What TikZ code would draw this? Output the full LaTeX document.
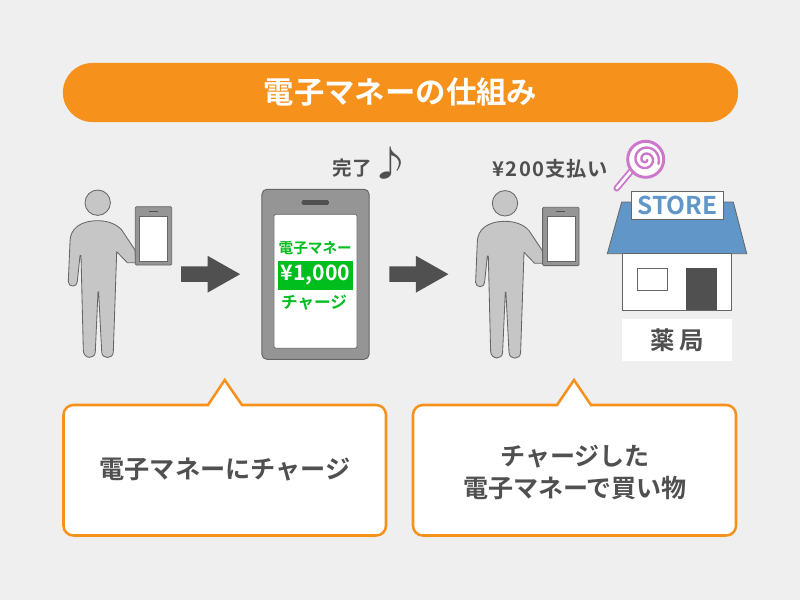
\documentclass[tikz,border=0pt]{standalone}
\usepackage{fontspec}
\setmainfont{Noto Sans CJK JP}[BoldFont={Noto Sans CJK JP Bold}]
\usepackage{tikz}
\usetikzlibrary{calc,positioning,shapes.arrows}

\definecolor{bggray}{HTML}{EFEFEF}
\definecolor{orangemain}{HTML}{F6911C}
\definecolor{textgray}{HTML}{505050}
\definecolor{linegray}{HTML}{666666}
\definecolor{bodygray}{HTML}{C6C6C6}
\definecolor{casegray}{HTML}{959595}
\definecolor{moneygreen}{HTML}{00BE1E}
\definecolor{storeblue}{HTML}{6097C8}
\definecolor{candypink}{HTML}{CC77CC}

\newcommand{\fsize}[1]{\fontsize{#1}{#1}\selectfont\bfseries}

\tikzset{
	person/.pic={
		\draw [fill=bodygray, draw=linegray, line width=0.6pt] (97.7,202.7) circle (12.7);
		\draw [fill=bodygray, draw=linegray, line width=0.6pt, line join=round]
			(97.7,220.7) .. controls (80,220.7) and (70,229) .. (70,241.7)
			-- (68.3,281.7) .. controls (68.3,287.5) and (77.3,287.5) .. (77.3,281.7)
			-- (80,255.5) -- (81,255.5) -- (83.3,350)
			.. controls (83.3,359.5) and (95.3,359.5) .. (95.3,351.7)
			-- (98,291.7) -- (98.6,291.7) -- (101.7,351.7)
			.. controls (101.7,359.5) and (113.3,359.5) .. (113.3,351.7)
			-- (116.7,251.7) -- (127.3,262.7) -- (136,262.7) -- (135,250)
			-- (121.7,230) .. controls (116,223.5) and (107,220.7) .. (97.7,220.7) -- cycle;
		\draw [fill=casegray, draw=linegray, line width=0.6pt, rounded corners=0.8pt] (135.3,206.7) rectangle (171.7,265);
		\draw [fill=white, draw=linegray, line width=0.4pt] (139.5,216) rectangle (167.5,261);
		\draw [draw=textgray, line width=0.7pt] (149,211) -- (158,211);
	},
}

\begin{document}
\begin{tikzpicture}[x=0.025cm,y=-0.025cm]
	\tikzstyle{blockarrow} = [shape=single arrow, fill=textgray, anchor=tip, inner xsep=0pt, inner ysep=0.1875cm, minimum height=1.475cm, minimum width=0.9075cm, single arrow head extend=0.266cm, single arrow tip angle=59]
	\tikzstyle{callout} = [draw=orangemain, fill=white, line width=1.8pt, line join=miter]
	\tikzstyle{darktext} = [text=textgray, inner sep=0pt, align=center]
	\tikzstyle{greentext} = [text=moneygreen, inner sep=0pt]

	\fill [bggray] (0,0) rectangle (800,600);

	% title
	\node [fill=orangemain, rounded corners=0.735cm, minimum width=16.875cm, minimum height=1.475cm, text=white, inner sep=0pt, font=\fsize{21.6}] (title) at (400.5,92.5) {電子マネーの仕組み};

	% left person and phone
	\pic (buyer) at (0,0) {person};
	\node [blockarrow] (arrowa) at (240.7,274.2) {};

	\node [fill=casegray, draw=linegray, line width=0.7pt, rounded corners=3.5pt, minimum width=2.675cm, minimum height=4.25cm, inner sep=0pt] (phone) at (315.5,274.3) {};
	\node [fill=white, draw=linegray, line width=0.5pt, rounded corners=1.5pt, minimum width=2.075cm, minimum height=3.35cm, inner sep=0pt] (screen) at (315.5,281.3) {};
	\node [fill=textgray, rounded corners=1pt, minimum width=0.68cm, minimum height=0.12cm, inner sep=0pt] (speaker) at (315.3,202.5) {};
	\node [fill=moneygreen, text=white, minimum width=1.87cm, minimum height=0.73cm, inner sep=0pt, font=\fsize{15.1}] (amount) at (315.3,275.3) {¥1,000};
	\node [greentext, font=\fsize{10.4}] (moneylabel) at (315.3,248.5) {電子マネー};
	\node [greentext, font=\fsize{11.8}] (chargelabel) at (314,303) {チャージ};

	\node [darktext, font=\fsize{13.9}] (done) at (352.5,168) {完了};
	\node [text=textgray, inner sep=0pt, transform shape, xscale=1.2, font=\fsize{25}] (note) at (391,163) {♪};

	\node [blockarrow] (arrowb) at (449,274.2) {};

	% right person and store
	\pic (payer) at (407.3,0.6) {person};
	\node [darktext, font=\fsize{14.4}\addfontfeature{LetterSpace=5.5}] (pay) at (550.5,169) {¥200支払い};

	\draw [line width=4.6pt, candypink, line cap=round] (632,170) -- (616.7,188.3);
	\draw [line width=1.9pt, white, line cap=round] (632,170) -- (616.7,188.3);
	\node [circle, draw=candypink, fill=white, line width=2.1pt, minimum size=0.9cm, inner sep=0pt] (candy) at (645.7,159.3) {};
	\draw [candypink, line width=1.7pt, line cap=round, domain=0:720, samples=80, smooth] plot ({645.7+(1.5+\x/60)*cos(\x+20)}, {159.3+(1.5+\x/60)*sin(\x+20)});

	\draw [fill=storeblue, draw=linegray, line width=0.6pt] (607.3,253.7) -- (621.7,202) -- (733.3,202) -- (746.7,253.7) -- cycle;
	\draw [fill=white, draw=linegray, line width=0.6pt] (622.7,253.7) rectangle (731,310.3);
	\node [draw=linegray, fill=white, line width=0.5pt, minimum width=0.77cm, minimum height=0.56cm, inner sep=0pt] (window) at (652.3,279.5) {};
	\node [fill=textgray, minimum width=0.77cm, minimum height=1.065cm, inner sep=0pt] (door) at (701.3,289) {};
	\node [draw=linegray, fill=white, line width=0.6pt, minimum width=2.3cm, minimum height=0.7cm, inner sep=0pt, text=storeblue, font=\fsize{17.4}] (sign) at (677.3,205.3) {STORE};
	\node [fill=white, text=textgray, minimum width=2.76cm, minimum height=1.035cm, inner sep=0pt, font=\fsize{17.4}] (shop) at (677.2,340) {薬\,局};

	% speech boxes
	\draw [callout] (208,405) -- (224.7,380) -- (242,405) [rounded corners=7pt] -- (386,405) -- (386,535.5) -- (63.5,535.5) -- (63.5,405) [sharp corners] -- (208,405) -- cycle;
	\node [darktext, font=\fsize{17.9}] (tipa) at (225,470) {電子マネーにチャージ};

	\draw [callout] (557,405) -- (574,380) -- (591,405) [rounded corners=7pt] -- (736,405) -- (736,535.5) -- (413,535.5) -- (413,405) [sharp corners] -- (557,405) -- cycle;
	\node [darktext, font=\fsize{17.8}, text width=8cm] (tipb) at (575,472.5) {チャージした\\[5.5pt]電子マネーで買い物};
\end{tikzpicture}
\end{document}
